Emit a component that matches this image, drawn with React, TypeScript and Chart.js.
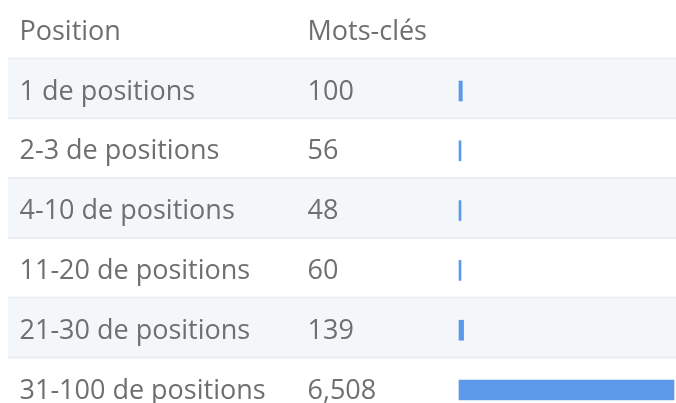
import React, { useEffect, useRef } from "react";
import { Chart, registerables } from "chart.js";

Chart.register(...registerables);

const headers = ["Position", "Mots-clés"];
const positions = [
  "1 de positions",
  "2-3 de positions",
  "4-10 de positions",
  "11-20 de positions",
  "21-30 de positions",
  "31-100 de positions",
];
const keywords = [100, 56, 48, 60, 139, 6508];

const TEXT_COLOR = "#6f6f6f";
const FONT = '27px "Open Sans"';

const tablePlugin = {
  id: "tableRows",
  beforeDatasetsDraw(chart: any) {
    const { ctx, scales } = chart;
    const y = scales.y;
    const w = chart.width;
    ctx.save();
    for (let i = 0; i < positions.length; i++) {
      const c = y.getPixelForValue(i);
      const top = c - 33.5;
      ctx.fillStyle = "#e9edf1";
      ctx.fillRect(8, top, w - 8, 2);
      if (i % 2 === 0) {
        ctx.fillStyle = "#f4f7fa";
        ctx.fillRect(8, top + 2, w - 8, 58);
      }
    }
    ctx.restore();
  },
  afterDatasetsDraw(chart: any) {
    const { ctx, scales } = chart;
    const y = scales.y;
    ctx.save();
    ctx.font = FONT;
    ctx.fillStyle = TEXT_COLOR;
    ctx.textAlign = "left";
    ctx.textBaseline = "alphabetic";
    const hy = y.getPixelForValue(-1) + 8.5;
    ctx.fillText(headers[0], 19.5, hy);
    ctx.fillText(headers[1], 307.5, hy);
    for (let i = 0; i < positions.length; i++) {
      const by = y.getPixelForValue(i) + 8.5;
      ctx.fillText(positions[i], 19.5, by);
      ctx.fillText(keywords[i].toLocaleString("en-US"), 307.5, by);
    }
    ctx.restore();
  },
};

export default function App() {
  const ref = useRef<HTMLCanvasElement>(null);
  useEffect(() => {
    if (!ref.current) return;
    const chart = new Chart(ref.current, {
      type: "bar",
      data: {
        labels: positions,
        datasets: [
          {
            data: keywords,
            backgroundColor: "#5b9ae8",
            borderWidth: 0,
            barThickness: 20,
            minBarLength: 2,
            clip: false as any,
          },
        ],
      },
      options: {
        indexAxis: "y",
        animation: false,
        responsive: false,
        maintainAspectRatio: false,
        events: [],
        layout: { padding: { left: 459, right: 2, top: 91, bottom: 13 } },
        scales: {
          x: { display: false, min: 0, max: 6508 },
          y: { display: false, offset: false },
        },
        plugins: {
          legend: { display: false },
          tooltip: { enabled: false },
        },
      },
      plugins: [tablePlugin],
    });
    return () => chart.destroy();
  }, []);
  return (
    <div
      style={{
        position: "fixed",
        left: 0,
        top: 0,
        width: 676,
        height: 403,
        overflow: "hidden",
        background: "#fff",
      }}
    >
      <canvas ref={ref} width={676} height={403} style={{ display: "block" }} />
    </div>
  );
}
